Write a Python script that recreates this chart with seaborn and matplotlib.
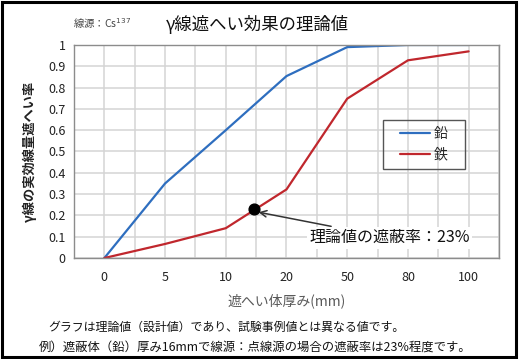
import pandas as pd
import matplotlib.pyplot as plt
import seaborn as sns
from matplotlib.patches import Rectangle

# data
thickness = ['0', '5', '10', '20', '50', '80', '100']
lead = [0.0, 0.35, 0.60, 0.854, 0.99, 1.0, 1.0]
iron = [0.0, 0.066, 0.14, 0.322, 0.748, 0.928, 0.97]
point_pos = 2.46   # 16mm between the 10 and 20 categories
point_val = 0.23

sns.set_theme(style="white")
plt.rcParams['font.family'] = ['Noto Sans CJK JP', 'DejaVu Sans']

df = pd.DataFrame({
    'pos': list(range(len(thickness))) * 2,
    'value': lead + iron,
    'material': ['鉛'] * len(lead) + ['鉄'] * len(iron),
})

fig = plt.figure(figsize=(5.2, 3.59), dpi=100)
ax = fig.add_axes([0.1423, 0.2813, 0.8173, 0.5934])

sns.lineplot(data=df, x='pos', y='value', hue='material', ax=ax,
             palette={'鉛': '#2e6ebf', '鉄': '#c0272d'}, linewidth=1.6)

ax.set_xlim(-0.5, 6.5)
ax.set_ylim(0, 1)
ax.set_xticks(range(len(thickness)))
ax.set_xticklabels(thickness)
ax.set_yticks([i / 10 for i in range(11)])
ax.set_yticklabels(['0'] + [f'{i/10:.1f}' for i in range(1, 10)] + ['1'])
ax.set_xticks([i - 0.5 for i in range(8)], minor=True)
ax.grid(True, which='major', color='#d4d4d4', linewidth=1.1)
ax.grid(True, which='minor', axis='x', color='#d4d4d4', linewidth=1.1)
ax.tick_params(axis='both', which='both', length=0, labelsize=9, colors='#222222', pad=6)
ax.tick_params(axis='x', pad=9)
for s in ax.spines.values():
    s.set_color('#8c8c8c')
    s.set_linewidth(1.0)

ax.set_xlabel('遮へい体厚み(mm)', fontsize=10, color='#595959', labelpad=7)
ax.set_ylabel('γ線の実効線量遮へい率', fontsize=9.5, color='#222222', labelpad=8,
              fontweight='bold')

# legend: frame drawn separately so the content can sit centred in a wide box
leg = ax.legend(loc='center', bbox_to_anchor=(0.8235, 0.533), fontsize=10,
                frameon=False, handlelength=2.1, labelspacing=0.45, handletextpad=0.3)
ax.add_patch(Rectangle((0.727, 0.418), 0.193, 0.230, transform=ax.transAxes,
                       fill=False, edgecolor='#555555', linewidth=1.0, zorder=6))

ax.scatter([point_pos], [point_val], s=60, color='black', zorder=5)
ax.annotate('理論値の遮蔽率：23%', xy=(point_pos + 0.08, point_val - 0.015),
            xytext=(3.38, 0.095), ha='left', va='center',
            fontsize=11.5, color='#111111',
            bbox=dict(boxstyle='square,pad=0.15', fc='white', ec='none'),
            arrowprops=dict(arrowstyle='->', color='#333333', lw=1.1,
                            shrinkA=2, shrinkB=0))

fig.text(0.496, 0.932, 'γ線遮へい効果の理論値', ha='center', va='center',
         fontsize=12.5, color='#111111')
fig.text(0.14, 0.935, '線源：Cs$^{137}$', ha='left', va='center',
         fontsize=7.5, color='#444444')

fig.text(0.092, 0.089, 'グラフは理論値（設計値）であり、試験事例値とは異なる値です。',
         ha='left', va='center', fontsize=8.6, color='#111111')
fig.text(0.075, 0.033, '例）遮蔽体（鉛）厚み16mmで線源：点線源の場合の遮蔽率は23%程度です。',
         ha='left', va='center', fontsize=8.9, color='#111111')

fig.patches.append(Rectangle((0.004, 0.005), 0.988, 0.99, transform=fig.transFigure,
                             fill=False, edgecolor='black', linewidth=2.2))

fig.savefig('out.png', dpi=100)
